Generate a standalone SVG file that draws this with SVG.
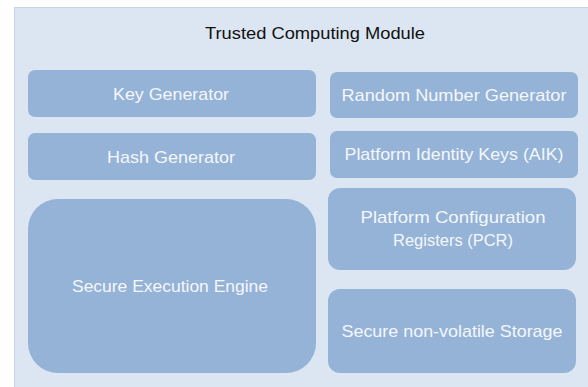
<svg xmlns="http://www.w3.org/2000/svg" width="588" height="387" viewBox="0 0 588 387">
<style>
.bg{fill:#dce6f2;stroke:#c5d5ea;stroke-width:1}
.box{fill:#95b3d7}
.lbl{font-family:"Liberation Sans",Arial,sans-serif;font-size:17px;fill:#f4f7fb;text-anchor:middle}
.title{font-family:"Liberation Sans",Arial,sans-serif;font-size:17px;fill:#111111;text-anchor:middle}
</style>
<rect width="588" height="387" fill="#ffffff"/>
<g id="module">
<rect class="bg" x="14.5" y="7.5" width="580" height="390"/>
<text class="title" x="315" y="39" textLength="220" lengthAdjust="spacingAndGlyphs">Trusted Computing Module</text>
</g>
<g id="key-generator">
<rect class="box" x="28" y="70" width="288" height="47" rx="7"/>
<text class="lbl" x="171" y="99.5" textLength="116" lengthAdjust="spacingAndGlyphs">Key Generator</text>
</g>
<g id="hash-generator">
<rect class="box" x="28" y="133" width="288" height="47" rx="7"/>
<text class="lbl" x="171" y="162.5" textLength="128" lengthAdjust="spacingAndGlyphs">Hash Generator</text>
</g>
<g id="secure-execution-engine">
<rect class="box" x="28" y="199" width="288" height="174" rx="30"/>
<text class="lbl" x="170" y="292" textLength="196" lengthAdjust="spacingAndGlyphs">Secure Execution Engine</text>
</g>
<g id="random-number-generator">
<rect class="box" x="330" y="72" width="248" height="46" rx="7"/>
<text class="lbl" x="454" y="100.5" textLength="225" lengthAdjust="spacingAndGlyphs">Random Number Generator</text>
</g>
<g id="platform-identity-keys">
<rect class="box" x="330" y="131" width="248" height="47" rx="7"/>
<text class="lbl" x="454" y="160" textLength="219" lengthAdjust="spacingAndGlyphs">Platform Identity Keys (AIK)</text>
</g>
<g id="pcr">
<rect class="box" x="328" y="188" width="248" height="82" rx="12"/>
<text class="lbl" x="453" y="223" textLength="185" lengthAdjust="spacingAndGlyphs">Platform Configuration</text>
<text class="lbl" x="453" y="246" textLength="120" lengthAdjust="spacingAndGlyphs">Registers (PCR)</text>
</g>
<g id="secure-storage">
<rect class="box" x="328" y="289" width="248" height="84" rx="12"/>
<text class="lbl" x="452" y="336.5" textLength="221" lengthAdjust="spacingAndGlyphs">Secure non-volatile Storage</text>
</g>
<g id="connectors"/>
</svg>
